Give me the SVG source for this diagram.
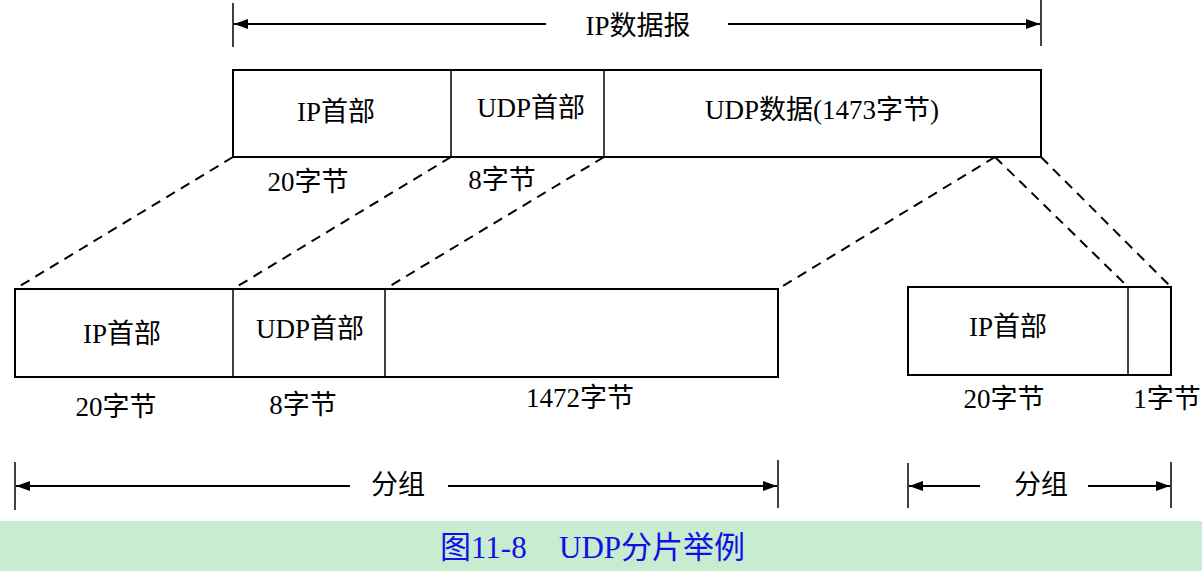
<svg xmlns="http://www.w3.org/2000/svg" width="1202" height="571" viewBox="0 0 1202 571">
  <style>
    .box { fill: #fff; stroke: #000; stroke-width: 2; }
    .div { stroke: #000; stroke-width: 1.5; }
    .dash { stroke: #000; stroke-width: 2; stroke-dasharray: 10 7; fill: none; }
    .dim { stroke: #000; stroke-width: 2; fill: none; }
    .bar { stroke: #000; stroke-width: 1.5; }
    .t { font-family: "Liberation Serif", "Noto Sans CJK SC", serif; font-size: 27px; fill: #000; text-anchor: middle; dominant-baseline: central; }
    .cap { font-family: "Liberation Serif", "Noto Sans CJK SC", serif; font-size: 31px; fill: #1010e8; dominant-baseline: central; }
  </style>
  <defs>
    <marker id="arr" viewBox="0 0 14 10" refX="14" refY="5" markerWidth="14" markerHeight="10" markerUnits="userSpaceOnUse" orient="auto-start-reverse">
      <path d="M0,0 L14,5 L0,10 Z" fill="#000"/>
    </marker>
  </defs>
  <rect width="1202" height="571" fill="#fff"/>

  <!-- IP datagram span -->
  <g id="span-datagram">
    <line class="bar" x1="233" y1="3" x2="233" y2="47"/>
    <line class="bar" x1="1041" y1="0" x2="1041" y2="46"/>
    <line class="dim" x1="546" y1="24" x2="234" y2="24" marker-end="url(#arr)"/>
    <line class="dim" x1="728" y1="24" x2="1040" y2="24" marker-end="url(#arr)"/>
    <text class="t" x="638" y="26">IP数据报</text>
  </g>

  <!-- original datagram -->
  <g id="datagram">
    <rect class="box" x="233" y="70" width="808" height="87"/>
    <line class="div" x1="451" y1="70" x2="451" y2="157"/>
    <line class="div" x1="604" y1="70" x2="604" y2="157"/>
    <text class="t" x="336" y="112">IP首部</text>
    <text class="t" x="531" y="108">UDP首部</text>
    <text class="t" x="822" y="110">UDP数据(1473字节)</text>
    <text class="t" x="308" y="182">20字节</text>
    <text class="t" x="502" y="180">8字节</text>
  </g>

  <!-- dashed projections -->
  <g id="connectors">
    <line class="dash" x1="233" y1="157" x2="15" y2="289"/>
    <line class="dash" x1="451" y1="157" x2="233" y2="289"/>
    <line class="dash" x1="604" y1="157" x2="385" y2="289"/>
    <line class="dash" x1="995" y1="157" x2="778" y2="289"/>
    <line class="dash" x1="995" y1="157" x2="1128" y2="287"/>
    <line class="dash" x1="1041" y1="157" x2="1171" y2="287"/>
  </g>

  <!-- first fragment -->
  <g id="fragment-1">
    <rect class="box" x="15" y="289" width="763" height="88"/>
    <line class="div" x1="233" y1="289" x2="233" y2="377"/>
    <line class="div" x1="385" y1="289" x2="385" y2="377"/>
    <text class="t" x="122" y="334">IP首部</text>
    <text class="t" x="310" y="329">UDP首部</text>
    <text class="t" x="116" y="407">20字节</text>
    <text class="t" x="303" y="405">8字节</text>
    <text class="t" x="580" y="398">1472字节</text>
  </g>

  <!-- second fragment -->
  <g id="fragment-2">
    <rect class="box" x="908" y="287" width="263" height="88"/>
    <line class="div" x1="1128" y1="287" x2="1128" y2="375"/>
    <text class="t" x="1008" y="327">IP首部</text>
    <text class="t" x="1004" y="399">20字节</text>
    <text class="t" x="1167" y="399">1字节</text>
  </g>

  <!-- packet spans -->
  <g id="span-packet-1">
    <line class="bar" x1="15" y1="462" x2="15" y2="510"/>
    <line class="bar" x1="778" y1="460" x2="778" y2="508"/>
    <line class="dim" x1="350" y1="486" x2="16" y2="486" marker-end="url(#arr)"/>
    <line class="dim" x1="448" y1="486" x2="777" y2="486" marker-end="url(#arr)"/>
    <text class="t" x="398" y="485">分组</text>
  </g>
  <g id="span-packet-2">
    <line class="bar" x1="908" y1="463" x2="908" y2="508"/>
    <line class="bar" x1="1171" y1="462" x2="1171" y2="508"/>
    <line class="dim" x1="980" y1="486" x2="909" y2="486" marker-end="url(#arr)"/>
    <line class="dim" x1="1088" y1="486" x2="1170" y2="486" marker-end="url(#arr)"/>
    <text class="t" x="1041" y="485">分组</text>
  </g>

  <!-- caption -->
  <g id="caption">
    <rect x="0" y="521" width="1202" height="50" fill="#c8ecd0"/>
    <text class="cap" x="440" y="547">图11-8</text>
    <text class="cap" x="559" y="547">UDP分片举例</text>
  </g>
</svg>
